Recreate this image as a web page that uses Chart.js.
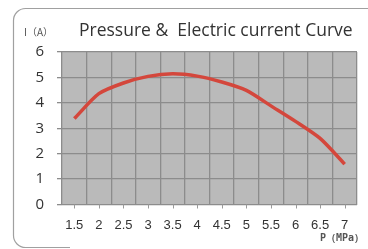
<!DOCTYPE html>
<html>
<head>
<meta charset="utf-8">
<script src="https://cdn.jsdelivr.net/npm/chart.js@4"></script>
<style>
  html, body { margin: 0; padding: 0; background: #fff; }
  #wrap { width: 368px; height: 249px; }
</style>
</head>
<body>
<div id="wrap"><canvas id="curve" width="368" height="249"></canvas></div>
<script>
// pressure (MPa) categories and current (A)
const pressures = ['1.5', '2', '2.5', '3', '3.5', '4', '4.5', '5', '5.5', '6', '6.5', '7'];
const currents = [3.38, 4.36, 4.78, 5.04, 5.14, 5.05, 4.82, 4.49, 3.88, 3.27, 2.6, 1.59];
const yTicks = [0, 1, 2, 3, 4, 5, 6];

const chartTitle = 'Pressure &  Electric current Curve';
const yName = 'I（A）';
const xName = 'P（MPa）';

const frame = {
    id: 'frame',
    beforeDraw(chart) {
        const c = chart.ctx;
        const a = chart.chartArea;
        c.save();
        c.fillStyle = '#fff';
        c.fillRect(0, 0, chart.width, chart.height);
        // rounded outline of the panel
        c.strokeStyle = '#a0a0a0';
        c.lineWidth = 1.2;
        c.beginPath();
        c.moveTo(70, 247.5);
        c.lineTo(25, 247.5);
        c.arcTo(13.5, 247.5, 13.5, 235, 12);
        c.lineTo(13.5, 20);
        c.arcTo(13.5, 8.5, 26, 8.5, 12);
        c.lineTo(368, 8.5);
        c.stroke();
        // grey plot background
        c.fillStyle = '#bababa';
        c.fillRect(a.left, a.top, a.right - a.left, a.bottom - a.top);
        c.restore();
    },
    afterDraw(chart) {
        const c = chart.ctx;
        const x = chart.scales.x;
        const a = chart.chartArea;
        c.save();
        // small tick marks under each label
        c.strokeStyle = '#9a9a9a';
        c.lineWidth = 1;
        pressures.forEach((p, i) => {
            const px = Math.round(x.getPixelForTick(i)) + 0.5;
            c.beginPath();
            c.moveTo(px, a.bottom);
            c.lineTo(px, a.bottom + 4);
            c.stroke();
        });
        c.fillStyle = '#333';
        c.textBaseline = 'middle';
        c.font = '17.5px "Open Sans"';
        c.fillText(chartTitle, 79, 31);
        c.font = '10px "Noto Sans CJK SC"';
        c.fillStyle = '#555';
        c.fillText(yName, 24, 32);
        c.textAlign = 'right';
        c.font = 'bold 10px "DejaVu Sans Mono"';
        c.fillText(xName, 364, 238);
        c.restore();
    }
};

new Chart(document.getElementById('curve'), {
    type: 'line',
    data: {
        labels: pressures,
        datasets: [{
            data: currents,
            borderColor: '#d4473c',
            borderWidth: 3.5,
            pointRadius: 0,
            tension: 0.25,
            fill: false
        }]
    },
    options: {
        responsive: false,
        animation: false,
        layout: { padding: { left: 0, right: 11, top: 52, bottom: 0 } },
        plugins: { legend: { display: false }, tooltip: { enabled: false } },
        scales: {
            x: {
                type: 'category',
                offset: true,
                afterFit(scale) { scale.height = 44.5; },
                grid: { offset: true, color: '#8c8c8c', lineWidth: 1.3, drawTicks: false },
                border: { color: '#8c8c8c' },
                ticks: {
                    color: '#333',
                    padding: 13,
                    maxRotation: 0,
                    font: { family: '"Liberation Sans Narrow", "Liberation Sans"', size: 13 }
                }
            },
            y: {
                min: 0,
                max: 6,
                afterFit(scale) { scale.width = 62; },
                afterBuildTicks(scale) { scale.ticks = yTicks.map(v => ({ value: v })); },
                grid: { color: '#8c8c8c', lineWidth: 1.3, tickLength: 5 },
                border: { display: false },
                ticks: {
                    color: '#333',
                    padding: 13,
                    font: { family: '"Open Sans"', size: 15 }
                }
            }
        }
    },
    plugins: [frame]
});
</script>
</body>
</html>
